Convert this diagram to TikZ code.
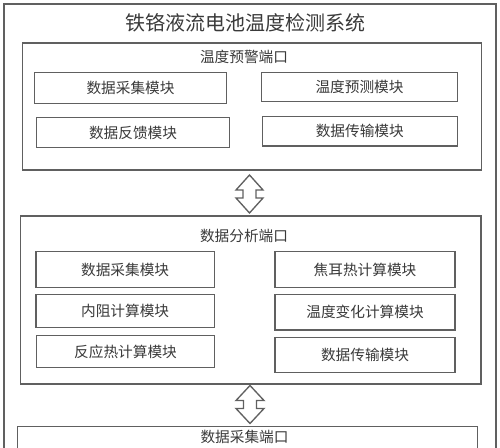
\documentclass[tikz,border=0pt]{standalone}
\usepackage{fontspec}
\newfontfamily\cjk{Noto Sans CJK SC}
\usetikzlibrary{fit}
\definecolor{ln}{HTML}{606060}
\definecolor{tx}{HTML}{3A3A3A}
\tikzset{
  frame/.style={draw=ln, line width=1.1pt, inner sep=0pt},
  box/.style={draw=ln, line width=1.1pt, inner sep=0pt},
  btext/.style={text=tx, inner sep=0pt, anchor=center, font=\cjk\fontsize{11pt}{13pt}\selectfont},
  ptitle/.style={text=tx, inner sep=0pt, font=\cjk\fontsize{11pt}{13pt}\selectfont},
  dblarrow/.style={draw=ln, line width=1pt, fill=white},
}
\begin{document}
\begin{tikzpicture}[x=0.75pt,y=-0.75pt]
\useasboundingbox (0,0) rectangle (500,448);
\clip (0,0) rectangle (500,448);
\fill[white] (0,0) rectangle (500,448);
% outer frame
\draw[ln, line width=1.1pt] (4,460) -- (4,4) -- (496,4) -- (496,460);
\node[text=tx, inner sep=0pt, font=\cjk\fontsize{15pt}{17pt}\selectfont] (title) at (245,23) {铁铬液流电池温度检测系统};
% port 1
\node[frame, fit={(22.7,43) (481.7,170)}] (p1) {};
\node[ptitle] (p1t) at (244,57) {温度预警端口};
\node[box, fit={(34.3,72.7) (226.7,103.3)}] (b11) {};
\node[btext] at (b11.center) {数据采集模块};
\node[box, fit={(261.7,72.3) (457.3,101.7)}] (b12) {};
\node[btext] at (b12.center) {温度预测模块};
\node[box, fit={(36.7,117.3) (229.3,147.7)}] (b13) {};
\node[btext] at (b13.center) {数据反馈模块};
\node[box, fit={(262.3,116.7) (457.3,146)}] (b14) {};
\node[btext] at (b14.center) {数据传输模块};
% port 2
\node[frame, fit={(20.7,216) (481,384)}] (p2) {};
\node[ptitle] (p2t) at (244,236) {数据分析端口};
\node[box, fit={(36,251.7) (214.3,287.7)}] (b21) {};
\node[btext] at (b21.center) {数据采集模块};
\node[box, fit={(275,251.7) (455,287.3)}] (b22) {};
\node[btext] at (b22.center) {焦耳热计算模块};
\node[box, fit={(36,294.3) (214.3,327.3)}] (b23) {};
\node[btext] at (b23.center) {内阻计算模块};
\node[box, fit={(275,294.3) (455,330)}] (b24) {};
\node[btext] at (b24.center) {温度变化计算模块};
\node[box, fit={(36.7,335.7) (214.3,367.7)}] (b25) {};
\node[btext] at (b25.center) {反应热计算模块};
\node[box, fit={(275,337.3) (455,372.3)}] (b26) {};
\node[btext] at (b26.center) {数据传输模块};
% port 3
\draw[ln, line width=1.1pt] (17.7,460) -- (17.7,426.7) -- (477.3,426.7) -- (477.3,460);
\node[ptitle] (p3t) at (244.5,437) {数据采集端口};
% double arrows
\coordinate (a1) at (249.5,194);
\draw[dblarrow] ([shift={(0,-19)}]a1) -- ([shift={(13.5,-4)}]a1) -- ([shift={(6.5,-4)}]a1)
  -- ([shift={(6.5,4)}]a1) -- ([shift={(13.5,4)}]a1) -- ([shift={(0,19)}]a1)
  -- ([shift={(-13.5,4)}]a1) -- ([shift={(-6.5,4)}]a1) -- ([shift={(-6.5,-4)}]a1)
  -- ([shift={(-13.5,-4)}]a1) -- cycle;
\coordinate (a2) at (250,404.5);
\draw[dblarrow] ([shift={(0,-19)}]a2) -- ([shift={(14,-4)}]a2) -- ([shift={(6.5,-4)}]a2)
  -- ([shift={(6.5,4)}]a2) -- ([shift={(14,4)}]a2) -- ([shift={(0,19)}]a2)
  -- ([shift={(-14,4)}]a2) -- ([shift={(-6.5,4)}]a2) -- ([shift={(-6.5,-4)}]a2)
  -- ([shift={(-14,-4)}]a2) -- cycle;
\end{tikzpicture}
\end{document}
